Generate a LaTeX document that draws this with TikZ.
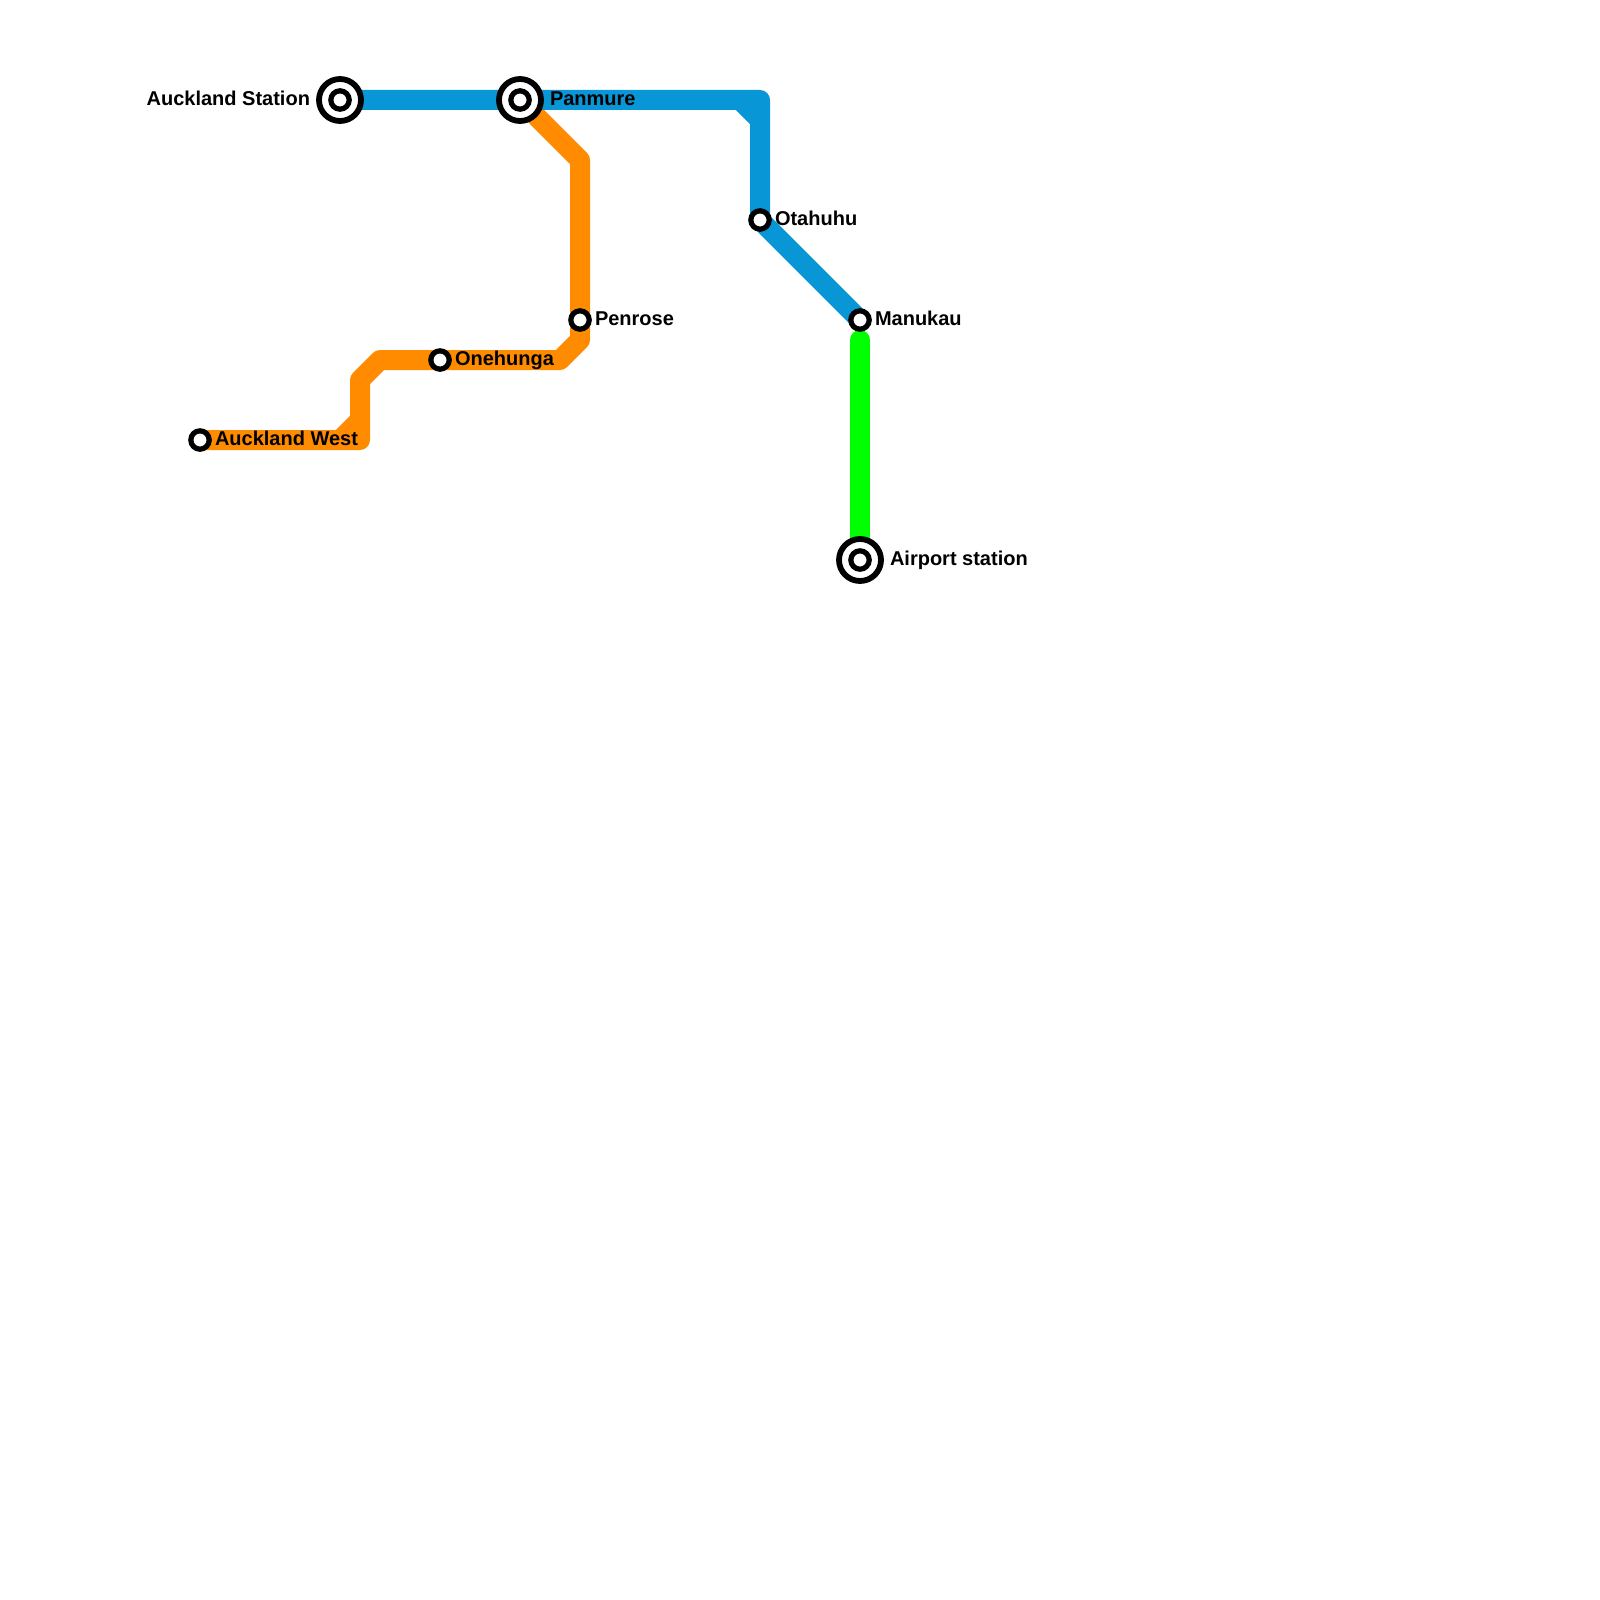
\documentclass[tikz,border=0pt]{standalone}
\usepackage{fontspec}
\setmainfont{Liberation Sans}
\usetikzlibrary{backgrounds}
\definecolor{lineblue}{HTML}{0896D7}
\definecolor{lineorange}{HTML}{FF8C00}
\definecolor{linegreen}{HTML}{00FF00}
\tikzset{
  x=0.5pt,y=-0.5pt,
  stop/.style={circle,draw=black,fill=white,line width=2.6pt,minimum size=9.2pt,inner sep=0pt,outer sep=0pt},
  interchange/.style={circle,draw=black,fill=white,line width=2.9pt,minimum size=21pt,inner sep=0pt,outer sep=0pt,
    path picture={\draw[black,line width=2.6pt] (path picture bounding box.center) circle[radius=4.6pt];}},
  route/.style={line width=10pt,line join=round,line cap=butt},
  stationlabel/.style={font=\fontsize{10pt}{12pt}\selectfont\bfseries,text=black,inner sep=0pt,outer sep=0pt},
}
\begin{document}
\begin{tikzpicture}
\useasboundingbox (0,0) rectangle (1600,1600);
% stations
\node[interchange] (aks) at (340,100) {};
\node[interchange] (pan) at (520,100) {};
\node[stop] (ota) at (760,220) {};
\node[stop] (man) at (860,320) {};
\node[interchange] (air) at (860,560) {};
\node[stop] (pen) at (580,320) {};
\node[stop] (one) at (440,360) {};
\node[stop] (akw) at (200,440) {};
% bends
\coordinate (b1) at (760,100);
\coordinate (b1a) at (740,100);
\coordinate (b1b) at (760,120);
\coordinate (o1) at (360,440);
\coordinate (o1a) at (340,440);
\coordinate (o1b) at (360,420);
\coordinate (o2) at (360,380);
\coordinate (o3) at (380,360);
\coordinate (o4) at (560,360);
\coordinate (o5) at (580,340);
\coordinate (o6) at (580,160);
\coordinate (g1) at (860,340);
% routes
\begin{scope}[on background layer]
\fill[white] (0,0) rectangle (1600,1600);
\draw[route,lineorange] (akw.center) -- (o1) -- (o2) -- (o3) -- (one.center) -- (o4) -- (o5) -- (pen.center) -- (o6) -- (pan.center);
\draw[route,lineorange] (o1a) -- (o1b);
\draw[route,lineblue] (aks.center) -- (pan.center) -- (b1) -- (ota.center) -- (man.center);
\draw[route,lineblue] (b1a) -- (b1b);
\draw[route,linegreen,line cap=round] (g1) -- (air.center);
\end{scope}
% labels
\node[stationlabel,anchor=base east] at (310,105) {Auckland Station};
\node[stationlabel,anchor=base west] at (550,105) {Panmure};
\node[stationlabel,anchor=base west] at (775,225) {Otahuhu};
\node[stationlabel,anchor=base west] at (875,325) {Manukau};
\node[stationlabel,anchor=base west] at (890,565) {Airport station};
\node[stationlabel,anchor=base west] at (595,325) {Penrose};
\node[stationlabel,anchor=base west] at (455,365) {Onehunga};
\node[stationlabel,anchor=base west] at (215,445) {Auckland West};
\end{tikzpicture}
\end{document}
